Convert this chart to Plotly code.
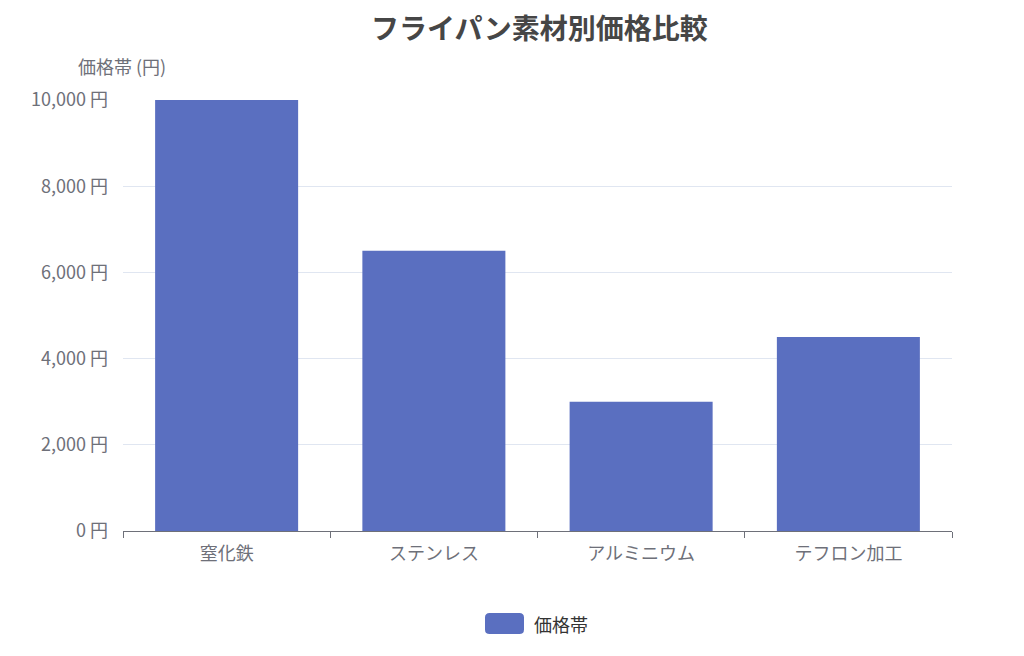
import plotly.graph_objects as go

categories = ["窒化鉄", "ステンレス", "アルミニウム", "テフロン加工"]
prices = [10000, 6500, 3000, 4500]
series_name = "価格帯"
tick_values = [0, 2000, 4000, 6000, 8000, 10000]
tick_labels = ["0 円", "2,000 円", "4,000 円", "6,000 円", "8,000 円", "10,000 円"]

FONT = "Noto Sans CJK JP, Noto Sans, sans-serif"
BAR_COLOR = "#5a6fc0"

# page body has an 8px margin; figure sized so the plot area lands at the reference position
W, H = 1016, 648
L, R, T, B = 115, 72, 92, 125

fig = go.Figure()
fig.add_trace(go.Bar(
    x=categories, y=prices, name=series_name, showlegend=False,
    marker=dict(color=BAR_COLOR, line=dict(width=0)),
))

plot_w = W - L - R
plot_h = H - T - B

def px_to_paper_x(px):
    return (px - 8 - L) / plot_w

def px_to_paper_y(py):
    return 1 - (py - 8 - T) / plot_h

# custom legend (rounded swatch + label)
sx0, sx1 = px_to_paper_x(485), px_to_paper_x(524)
sy0, sy1 = px_to_paper_y(634), px_to_paper_y(613)
rx = (sx1 - sx0) * 0.12
ry = (sy1 - sy0) * 0.22
path = (f"M {sx0+rx},{sy0} L {sx1-rx},{sy0} Q {sx1},{sy0} {sx1},{sy0+ry} "
        f"L {sx1},{sy1-ry} Q {sx1},{sy1} {sx1-rx},{sy1} L {sx0+rx},{sy1} "
        f"Q {sx0},{sy1} {sx0},{sy1-ry} L {sx0},{sy0+ry} Q {sx0},{sy0} {sx0+rx},{sy0} Z")

fig.update_layout(
    width=W, height=H,
    paper_bgcolor="white", plot_bgcolor="white",
    margin=dict(l=L, r=R, t=T, b=B),
    bargap=0.31,
    font=dict(family=FONT, color="#6e7079", size=18),
    showlegend=False,
    xaxis=dict(
        type="category", showline=True, linecolor="#6e7079", linewidth=1,
        ticks="outside", tickson="boundaries", ticklen=6, tickcolor="#6e7079",
        showgrid=False, tickfont=dict(size=18, color="#6e7079"),
        ticklabelstandoff=6,
    ),
    yaxis=dict(
        range=[0, 10000], tickvals=tick_values, ticktext=tick_labels,
        showgrid=True, gridcolor="#e0e6f1", gridwidth=1, zeroline=False,
        showline=False, ticks="", ticklabelstandoff=14,
        tickfont=dict(size=18, color="#6e7079"),
    ),
    shapes=[dict(type="path", path=path, xref="paper", yref="paper",
                 fillcolor=BAR_COLOR, line=dict(width=0))],
    annotations=[
        dict(text="<b>フライパン素材別価格比較</b>", xref="paper", yref="paper",
             x=px_to_paper_x(539), y=px_to_paper_y(27),
             xanchor="center", yanchor="middle", showarrow=False,
             font=dict(size=28, color="#464646", family=FONT)),
        dict(text="価格帯 (円)", xref="paper", yref="paper",
             x=px_to_paper_x(122), y=px_to_paper_y(66),
             xanchor="center", yanchor="middle", showarrow=False,
             font=dict(size=18, color="#6e7079", family=FONT)),
        dict(text=series_name, xref="paper", yref="paper",
             x=px_to_paper_x(532), y=px_to_paper_y(624),
             xanchor="left", yanchor="middle", showarrow=False,
             font=dict(size=18, color="#333333", family=FONT)),
    ],
)

fig.write_html("out.html")
